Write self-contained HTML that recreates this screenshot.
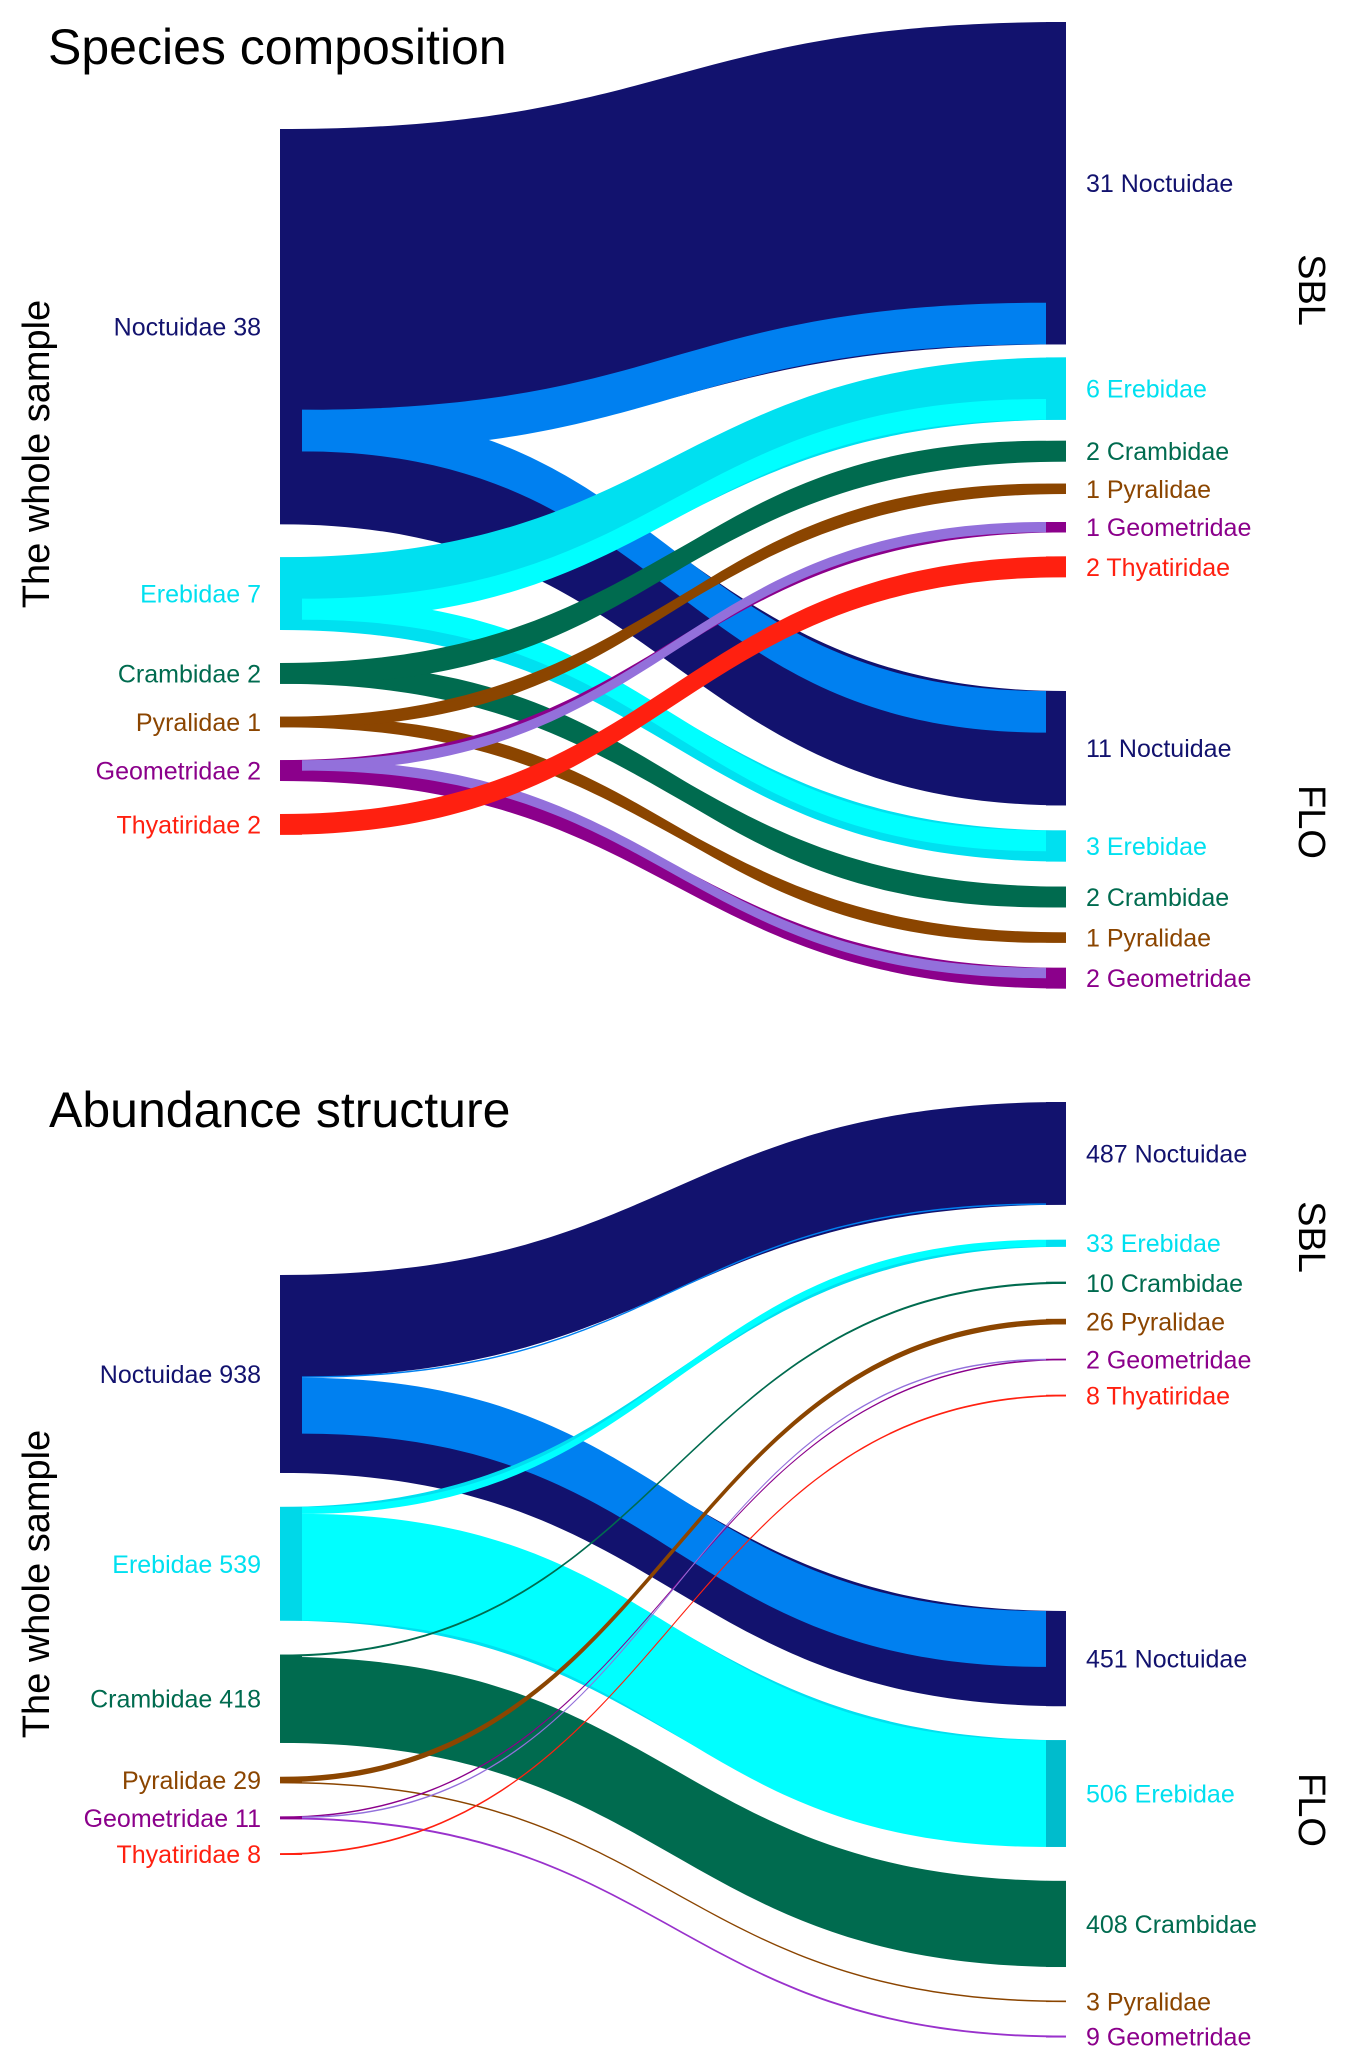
<!DOCTYPE html>
<html><head><meta charset="utf-8"><style>
html,body{margin:0;padding:0;background:#fff}
svg{display:block}
text{font-family:"Liberation Sans",sans-serif}
</style></head><body>
<svg id="chart" width="1348" height="2060" viewBox="0 0 1348 2060" xmlns="http://www.w3.org/2000/svg">
<text x="48" y="64" font-size="50">Species composition</text>
<text x="49" y="1127" font-size="50">Abundance structure</text>
<text transform="translate(49,454) rotate(-90)" text-anchor="middle" font-size="38">The whole sample</text>
<text transform="translate(49,1584) rotate(-90)" text-anchor="middle" font-size="38">The whole sample</text>
<text transform="translate(1299,290) rotate(90)" text-anchor="middle" font-size="38">SBL</text>
<text transform="translate(1299,822) rotate(90)" text-anchor="middle" font-size="38">FLO</text>
<text transform="translate(1299,1237) rotate(90)" text-anchor="middle" font-size="38">SBL</text>
<text transform="translate(1299,1810) rotate(90)" text-anchor="middle" font-size="38">FLO</text>
<g id="g1"></g><g id="g2"></g>
</svg>
<script>
const families = ['Noctuidae','Erebidae','Crambidae','Pyralidae','Geometridae','Thyatiridae'];
const darkColors = ['#12126e','#00e0f0','#006b4f','#8b4500','#8b008b','#ff2010'];
const lightColors = ['#0080f0','#00ffff','#006b4f','#8b4500','#9370db','#ff2010'];

const spTotal = [38,7,2,1,2,2];
const spSBL = [31,6,2,1,1,2];
const spFLO = [11,3,2,1,2,0];

const abTotal = [938,539,418,29,11,8];
const abSBL = [487,33,10,26,2,8];
const abFLO = [451,506,408,3,9,0];
const abSBLlight = [6,33,0,0,2,0];
const abFLOlight = [265,506,0,0,0,0];

const NS='http://www.w3.org/2000/svg';
const XL=280, XLI=302, XR=1066, XRI=1046;

function ribbon(g,x0,x1,a0,a1,b0,b1,color,name){
  if(a1-a0<1.5){const m=(a0+a1)/2;a0=m-0.75;a1=m+0.75;}
  if(b1-b0<1.5){const m=(b0+b1)/2;b0=m-0.75;b1=m+0.75;}
  const xm=(x0+x1)/2;
  const p=document.createElementNS(NS,'path');
  p.setAttribute('d',`M${x0},${a0} C${xm},${a0} ${xm},${b0} ${x1},${b0} L${x1},${b1} C${xm},${b1} ${xm},${a1} ${x0},${a1} Z`);
  p.setAttribute('fill',color);
  
  
  g.appendChild(p);
}
function rect(g,x,y,w,h,color,name){
  if(h<1.5){y=y+h/2-0.75;h=1.5;}
  const r=document.createElementNS(NS,'rect');
  r.setAttribute('x',x);r.setAttribute('y',y);r.setAttribute('width',w);r.setAttribute('height',h);
  r.setAttribute('fill',color);
  
  
  g.appendChild(r);
}
function label(g,x,y,txt,color,anchor,name){
  const t=document.createElementNS(NS,'text');
  t.setAttribute('x',x);t.setAttribute('y',y+9);t.setAttribute('font-size','25');
  t.setAttribute('fill',color);t.setAttribute('text-anchor',anchor);
  t.textContent=txt;
  
  
  g.appendChild(t);
}
function gapAt(gap,j){return Array.isArray(gap)?gap[Math.min(j,gap.length-1)]:gap;}

function draw(g,cfg){
  const k=cfg.k;
  const L=[],S=[],F=[];
  let c=cfg.leftStart;
  cfg.total.forEach((v,i)=>{L[i]=c;c+=v*k+gapAt(cfg.gapL,i);});
  c=cfg.sblStart; let j=0;
  cfg.sbl.forEach((v,i)=>{if(v>0){S[i]=c;c+=v*k+gapAt(cfg.gapS,j);j++;}});
  c=cfg.floStart; j=0;
  cfg.flo.forEach((v,i)=>{if(v>0){F[i]=c;c+=v*k+gapAt(cfg.gapF,j);j++;}});
  cfg.total.forEach((n,i)=>{
    const s=cfg.sbl[i],f=cfg.flo[i],y0=L[i];
    const lS=cfg.sblLight[i],lF=cfg.floLight[i];
    const fam=families[i].toLowerCase();
    if(f>0) ribbon(g,XL,XR,y0+(n-f)*k,y0+n*k,F[i],F[i]+f*k,cfg.floColor[i],fam+'-flo-flow');
    if(s>0) ribbon(g,XL,XR,y0,y0+s*k,S[i],S[i]+s*k,darkColors[i],fam+'-sbl-flow');
    if(f>0&&lF>0) ribbon(g,XLI,XRI,y0+(n-f)*k,y0+(n-f+lF)*k,F[i],F[i]+lF*k,lightColors[i],fam+'-flo-shared-flow');
    if(s>0&&lS>0) ribbon(g,XLI,XRI,y0+(s-lS)*k,y0+s*k,S[i]+(s-lS)*k,S[i]+s*k,lightColors[i],fam+'-sbl-shared-flow');
  });
  cfg.total.forEach((n,i)=>{
    const fam=families[i].toLowerCase();
    rect(g,XL,L[i],XLI-XL,n*k,cfg.leftNode[i],fam+'-left-node');
    label(g,261,L[i]+n*k/2,families[i]+' '+n,darkColors[i],'end',fam+'-left-label');
    if(cfg.sbl[i]>0){
      rect(g,XRI,S[i],XR-XRI,cfg.sbl[i]*k,darkColors[i],fam+'-sbl-node');
      label(g,1086,S[i]+cfg.sbl[i]*k/2,cfg.sbl[i]+' '+families[i],darkColors[i],'start',fam+'-sbl-label');
    }
    if(cfg.flo[i]>0){
      rect(g,XRI,F[i],XR-XRI,cfg.flo[i]*k,cfg.floNode[i],fam+'-flo-node');
      label(g,1086,F[i]+cfg.flo[i]*k/2,cfg.flo[i]+' '+families[i],darkColors[i],'start',fam+'-flo-label');
    }
  });
}

const spOverlap = spTotal.map((n,i)=>Math.max(0,spSBL[i]+spFLO[i]-n));
draw(document.getElementById('g1'),{
  k:10.4,leftStart:129,gapL:33,sblStart:22,gapS:[13,21,22,28,24],floStart:691,gapF:25,
  total:spTotal,sbl:spSBL,flo:spFLO,
  sblLight:spOverlap.map((o,i)=>spSBL[i]>0&&spFLO[i]>0?o:0),
  floLight:spOverlap.map((o,i)=>spSBL[i]>0&&spFLO[i]>0?o:0),
  floColor:darkColors,leftNode:darkColors,floNode:darkColors
});
draw(document.getElementById('g2'),{
  k:0.211,leftStart:1275,gapL:34,sblStart:1102,gapS:35,floStart:1611,gapF:34,
  total:abTotal,sbl:abSBL,flo:abFLO,sblLight:abSBLlight,floLight:abFLOlight,
  floColor:['#12126e','#00e0f0','#006b4f','#8b4500','#9932cc','#ff2010'],
  leftNode:['#12126e','#00d8e8','#006b4f','#8b4500','#8b008b','#ff2010'],
  floNode:['#12126e','#00bccc','#006b4f','#8b4500','#9932cc','#ff2010']
});
</script>
</body></html>
